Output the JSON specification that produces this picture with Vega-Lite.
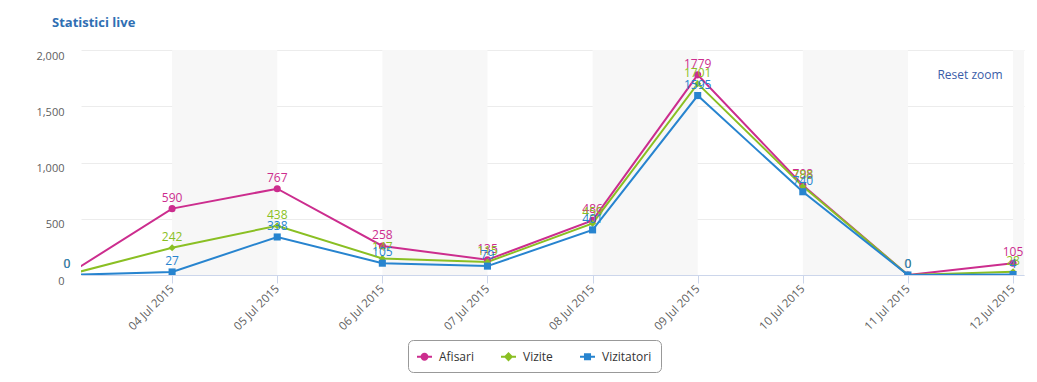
{
  "$schema": "https://vega.github.io/schema/vega-lite/v6.json",
  "width": 943,
  "height": 225,
  "autosize": {"type": "none"},
  "padding": {"left": 81, "top": 50, "right": 13, "bottom": 107},
  "background": "white",
  "config": {
    "view": {"stroke": null},
    "font": "Open Sans",
    "legend": {
      "labelFontSize": 12,
      "labelColor": "#333333",
      "strokeColor": "#999999",
      "cornerRadius": 5,
      "padding": 9,
      "columnPadding": 27,
      "symbolSize": 225,
      "symbolStrokeWidth": 0,
      "symbolOpacity": 1,
      "labelOffset": 7
    }
  },
  "title": {
    "text": "Statistici live",
    "anchor": "start",
    "frame": "group",
    "dx": -29,
    "offset": 20,
    "fontSize": 13,
    "fontWeight": "bold",
    "color": "#2f6fb3",
    "font": "Open Sans"
  },
  "data": {
    "values": [
      {"date": "2015-07-03", "series": "Afisari", "value": 0},
      {"date": "2015-07-04", "series": "Afisari", "value": 590},
      {"date": "2015-07-05", "series": "Afisari", "value": 767},
      {"date": "2015-07-06", "series": "Afisari", "value": 258},
      {"date": "2015-07-07", "series": "Afisari", "value": 135},
      {"date": "2015-07-08", "series": "Afisari", "value": 486},
      {"date": "2015-07-09", "series": "Afisari", "value": 1779},
      {"date": "2015-07-10", "series": "Afisari", "value": 798},
      {"date": "2015-07-11", "series": "Afisari", "value": 0},
      {"date": "2015-07-12", "series": "Afisari", "value": 105},
      {"date": "2015-07-03", "series": "Vizite", "value": 0},
      {"date": "2015-07-04", "series": "Vizite", "value": 242},
      {"date": "2015-07-05", "series": "Vizite", "value": 438},
      {"date": "2015-07-06", "series": "Vizite", "value": 147},
      {"date": "2015-07-07", "series": "Vizite", "value": 115},
      {"date": "2015-07-08", "series": "Vizite", "value": 459},
      {"date": "2015-07-09", "series": "Vizite", "value": 1701},
      {"date": "2015-07-10", "series": "Vizite", "value": 788},
      {"date": "2015-07-11", "series": "Vizite", "value": 0},
      {"date": "2015-07-12", "series": "Vizite", "value": 28},
      {"date": "2015-07-03", "series": "Vizitatori", "value": 0},
      {"date": "2015-07-04", "series": "Vizitatori", "value": 27},
      {"date": "2015-07-05", "series": "Vizitatori", "value": 338},
      {"date": "2015-07-06", "series": "Vizitatori", "value": 105},
      {"date": "2015-07-07", "series": "Vizitatori", "value": 79},
      {"date": "2015-07-08", "series": "Vizitatori", "value": 401},
      {"date": "2015-07-09", "series": "Vizitatori", "value": 1595},
      {"date": "2015-07-10", "series": "Vizitatori", "value": 740},
      {"date": "2015-07-11", "series": "Vizitatori", "value": 0},
      {"date": "2015-07-12", "series": "Vizitatori", "value": 4}
    ],
    "format": {"parse": {"date": "date:'%Y-%m-%d'"}}
  },
  "encoding": {
    "x": {
      "field": "date",
      "type": "temporal",
      "title": null,
      "scale": {
        "domain": [
          {"year": 2015, "month": 7, "date": 3, "hours": 3, "minutes": 12},
          {"year": 2015, "month": 7, "date": 12, "hours": 2, "minutes": 30}
        ]
      },
      "axis": {
        "values": [
          {"year": 2015, "month": 7, "date": 4},
          {"year": 2015, "month": 7, "date": 5},
          {"year": 2015, "month": 7, "date": 6},
          {"year": 2015, "month": 7, "date": 7},
          {"year": 2015, "month": 7, "date": 8},
          {"year": 2015, "month": 7, "date": 9},
          {"year": 2015, "month": 7, "date": 10},
          {"year": 2015, "month": 7, "date": 11},
          {"year": 2015, "month": 7, "date": 12}
        ],
        "format": "%d %b %Y",
        "labelAngle": -45,
        "labelAlign": "right",
        "labelBaseline": "middle",
        "labelPadding": 4,
        "labelFontSize": 11.5,
        "labelColor": "#606060",
        "labelFont": "Open Sans",
        "domainColor": "#ccd6eb",
        "tickColor": "#ccd6eb",
        "tickSize": 8,
        "grid": false,
        "labelOverlap": false
      }
    },
    "y": {
      "field": "value",
      "type": "quantitative",
      "title": null,
      "scale": {"domain": [0, 2000], "nice": false},
      "axis": {
        "values": [0, 500, 1000, 1500, 2000],
        "format": ",d",
        "domain": false,
        "ticks": false,
        "gridColor": "#ececec",
        "labelFontSize": 11,
        "labelColor": "#606060",
        "labelFont": "Open Sans",
        "labelPadding": 17,
        "labelBaseline": "middle",
        "labelOffset": 6
      }
    }
  },
  "layer": [
    {
      "data": {
        "values": [
          {"start": "2015-07-04", "end": "2015-07-05"},
          {"start": "2015-07-06", "end": "2015-07-07"},
          {"start": "2015-07-08", "end": "2015-07-09"},
          {"start": "2015-07-10", "end": "2015-07-11"},
          {"start": "2015-07-12", "end": "2015-07-13"}
        ],
        "format": {"parse": {"start": "date:'%Y-%m-%d'", "end": "date:'%Y-%m-%d'"}}
      },
      "mark": {"type": "rect", "color": "#f7f7f7", "clip": true},
      "encoding": {
        "x": {"field": "start", "type": "temporal"},
        "x2": {"field": "end"},
        "y": null
      }
    },
    {
      "mark": {"type": "line", "strokeWidth": 2, "clip": true},
      "encoding": {
        "color": {
          "field": "series",
          "type": "nominal",
          "scale": {
            "domain": ["Afisari", "Vizite", "Vizitatori"],
            "range": ["#cc2d8e", "#8abf23", "#2784cf"]
          },
          "legend": {
            "title": null,
            "orient": "none",
            "direction": "horizontal",
            "legendX": 327,
            "legendY": 290,
            "symbolSize": 225,
            "symbolOpacity": 1
          }
        }
      }
    },
    {
      "transform": [{"filter": "datum.series === 'Afisari'"}],
      "mark": {"type": "point", "shape": "circle", "filled": true, "opacity": 1, "size": 50, "clip": true},
      "encoding": {"color": {"field": "series", "type": "nominal"}}
    },
    {
      "transform": [{"filter": "datum.series === 'Vizite'"}],
      "mark": {"type": "point", "shape": "diamond", "filled": true, "opacity": 1, "size": 50, "clip": true},
      "encoding": {"color": {"field": "series", "type": "nominal"}}
    },
    {
      "transform": [{"filter": "datum.series === 'Vizitatori'"}],
      "mark": {"type": "point", "shape": "square", "filled": true, "opacity": 1, "size": 50, "clip": true},
      "encoding": {"color": {"field": "series", "type": "nominal"}}
    },
    {
      "mark": {"type": "point", "filled": true, "opacity": 0, "size": 1, "clip": true},
      "encoding": {
        "color": {"field": "series", "type": "nominal"},
        "shape": {
          "field": "series",
          "type": "nominal",
          "scale": {
            "domain": ["Afisari", "Vizite", "Vizitatori"],
            "range": [
              "M-1,-0.13H1V0.13H-1Z M-0.53,0A0.53,0.53 0 1,1 0.53,0A0.53,0.53 0 1,1 -0.53,0Z",
              "M-1,-0.13H1V0.13H-1Z M0,-0.62L0.62,0L0,0.62L-0.62,0Z",
              "M-1,-0.13H1V0.13H-1Z M-0.47,-0.47H0.47V0.47H-0.47Z"
            ]
          },
          "legend": {
            "title": null,
            "orient": "none",
            "direction": "horizontal",
            "legendX": 327,
            "legendY": 290,
            "symbolSize": 225,
            "symbolOpacity": 1
          }
        }
      }
    },
    {
      "mark": {"type": "text", "dy": -11, "fontSize": 12, "font": "Open Sans", "clip": false},
      "encoding": {
        "text": {"field": "value", "type": "quantitative", "format": "d"},
        "color": {"field": "series", "type": "nominal"}
      }
    },
    {
      "transform": [{"filter": "datum.value === 1779"}],
      "mark": {"type": "text", "text": "Reset zoom", "fontSize": 12, "font": "Open Sans", "color": "#3a5da8", "clip": false},
      "encoding": {
        "x": {"datum": {"year": 2015, "month": 7, "date": 11, "hours": 14, "minutes": 10}, "type": "temporal"},
        "y": {"datum": 1778, "type": "quantitative"}
      }
    }
  ]
}
